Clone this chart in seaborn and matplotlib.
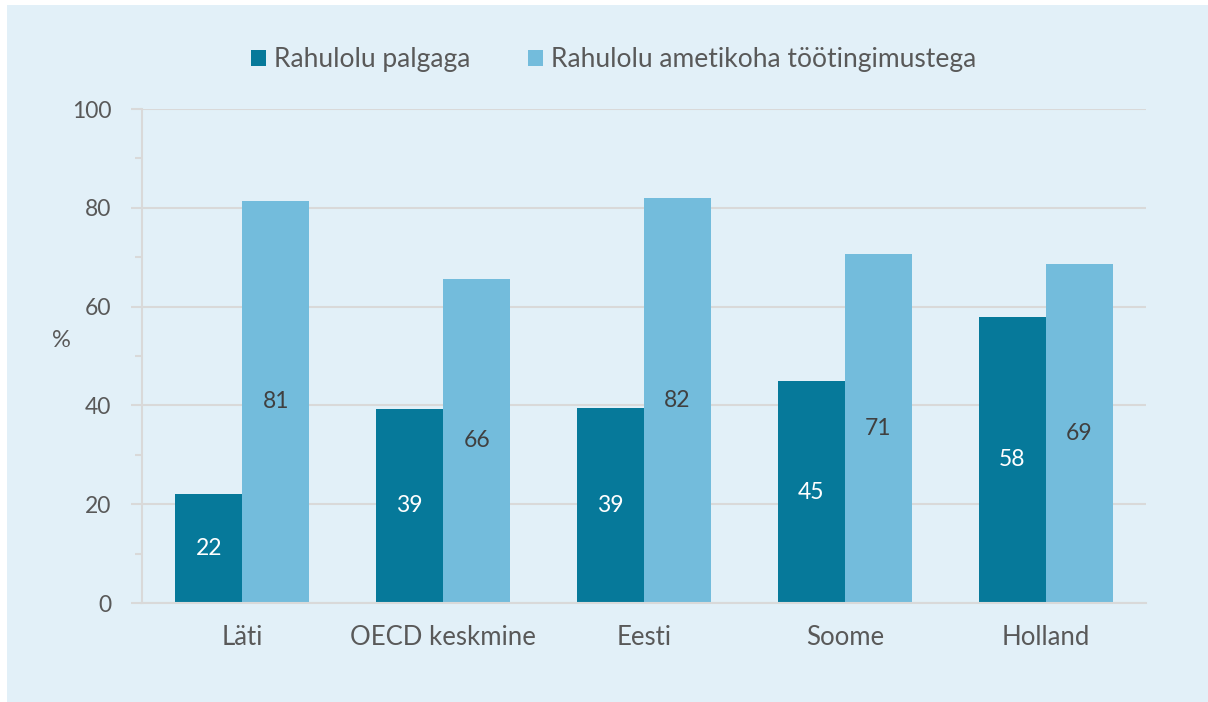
import pandas as pd
import matplotlib.pyplot as plt
import seaborn as sns
from matplotlib.patches import Rectangle

# Andmed
riigid = ["Läti", "OECD keskmine", "Eesti", "Soome", "Holland"]
palk = [22.1, 39.3, 39.4, 44.9, 57.9]
tingimused = [81.4, 65.6, 82.0, 70.6, 68.6]
seeriad = ["Rahulolu palgaga", "Rahulolu ametikoha töötingimustega"]
varvid = ["#06799A", "#73BCDC"]

df = pd.DataFrame({
    "riik": riigid * 2,
    "vaartus": palk + tingimused,
    "seeria": [seeriad[0]] * len(riigid) + [seeriad[1]] * len(riigid),
})

sns.set_style("white")
plt.rcParams["font.family"] = ["Lato", "DejaVu Sans"]
tekst = "#595959"
taust = "#E2F0F8"
joon = "#D9D9D9"

fig = plt.figure(figsize=(12.08, 7.02), dpi=100, facecolor="white")
fig.patches.append(Rectangle((7 / 1208, 0), 1 - 7 / 1208, 1 - 5 / 702,
                             transform=fig.transFigure, facecolor=taust,
                             edgecolor="none", zorder=-10))
ax = fig.add_axes([142 / 1208, 1 - 603 / 702, (1146 - 142) / 1208, (603 - 109) / 702])
ax.set_facecolor(taust)

sns.barplot(data=df, x="riik", y="vaartus", hue="seeria", palette=varvid,
            width=2 / 3, gap=0, saturation=1, linewidth=0, ax=ax, legend=True)

ax.set_ylim(0, 100)
ax.set_yticks(range(0, 101, 20))
ax.set_yticks(range(0, 101, 10), minor=True)
ax.yaxis.grid(True, color=joon, linewidth=1.5)
ax.set_axisbelow(True)
for s in ["top", "right"]:
    ax.spines[s].set_visible(False)
for s in ["left", "bottom"]:
    ax.spines[s].set_color(joon)
    ax.spines[s].set_linewidth(1.5)
ax.tick_params(axis="y", which="both", left=True, length=8, width=1.5,
               color=joon, labelsize=16.5, labelcolor=tekst, pad=14)
ax.tick_params(axis="y", which="minor", length=5)
ax.tick_params(axis="x", bottom=False, labelsize=18.5, labelcolor=tekst, pad=12)
ax.set_xlabel("")
ax.set_ylabel("%", rotation=0, fontsize=17, color=tekst)
ax.yaxis.set_label_coords(-0.08, 0.51)

for cont, col in zip(ax.containers, ["white", "#404040"]):
    ax.bar_label(cont, labels=[f"{v.get_height():.0f}" for v in cont],
                 label_type="center", color=col, fontsize=16.5)

h, l = ax.get_legend_handles_labels()
ax.get_legend().remove()
fig.legend(h, l, loc="center", bbox_to_anchor=(0.508, 1 - 60 / 702), ncol=2,
           frameon=False, fontsize=19, labelcolor=tekst, handlelength=0.55,
           handleheight=0.55, handletextpad=0.3, columnspacing=2.2)

plt.savefig("out.png", dpi=100, facecolor="white")
